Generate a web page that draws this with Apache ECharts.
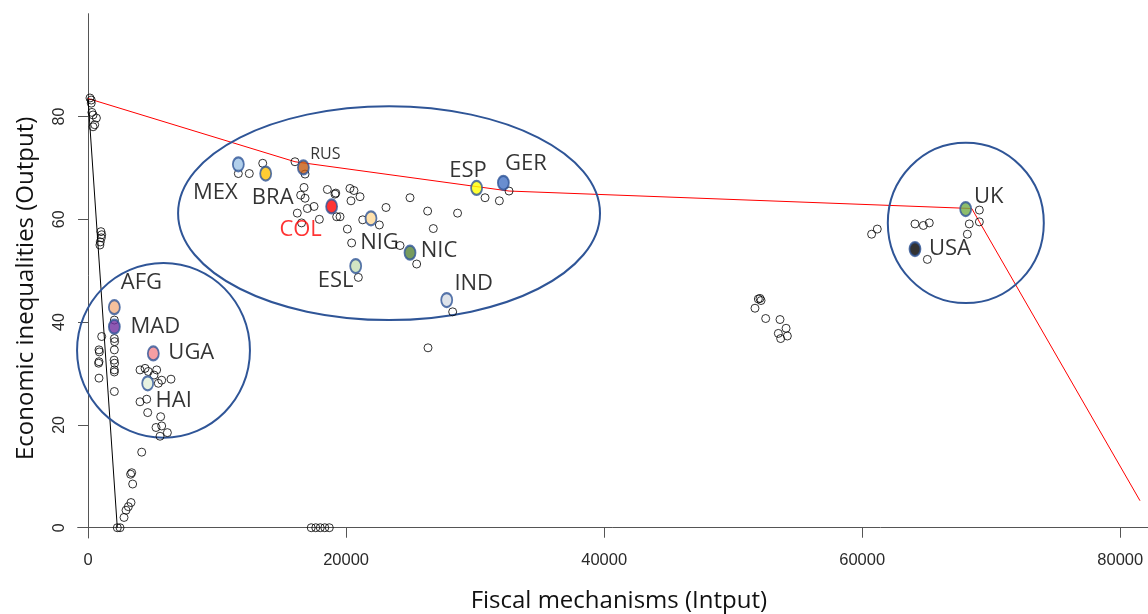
<!DOCTYPE html>
<html>
<head>
<meta charset="utf-8">
<script src="https://cdn.jsdelivr.net/npm/echarts@6/dist/echarts.min.js"></script>
<style>
html,body{margin:0;padding:0;background:#fff;}
#chart{width:1148px;height:614px;}
</style>
</head>
<body>
<div id="chart"></div>
<script>
// ---------- data ----------
const xTicks = [0, 20000, 40000, 60000, 80000];
const yTicks = [0, 20, 40, 60, 80];

// hollow (unlabelled) observations
const axisTopPoints = [[150,83.6],[250,83.2],[250,82.6],[300,80.8],[390,80.3],[650,79.7],[520,78.4],[390,78.0]];
const axisMidPoints = [[1000,57.6],[1060,57.0],[1030,56.4],[950,55.6],[920,55.0]];
const leftColumnA = [[1060,37.2],[850,34.6],[880,34.2],[850,32.3],[820,32.0],[850,29.1]];
const leftColumnB = [[2040,40.4],[2040,36.8],[2060,36.2],[2040,34.6],[2020,32.6],[2060,32.0],[2040,30.7],[2040,30.3],[2040,26.5]];
const leftCluster = [[4030,30.7],[4420,31.0],[4675,30.4],[5115,29.7],[5320,30.7],[5710,28.7],[5450,28.1],[6430,28.9],[4550,25.0],[4030,24.5],[4625,22.4],[5630,21.6],[5710,19.8],[5270,19.5],[6150,18.5],[5580,17.8],[4160,14.7]];
const leftTail = [[3385,10.7],[3300,10.4],[3460,8.5],[3330,4.9],[3125,4.1],[2945,3.4],[2790,2.0],[2270,0],[2480,0]];
const midCluster = [[11650,68.9],[12500,68.9],[13540,70.9],[16040,71.2],[16820,68.8],[16740,66.2],[16480,64.7],[16820,64.1],[17000,62.1],[17515,62.5],[16220,61.2],[16550,59.3],[17930,60.0],[18550,65.8],[19140,64.9],[19200,65.1],[20300,66.0],[20610,65.6],[20380,63.6],[21080,64.4],[19270,60.5],[19530,60.5],[20100,58.1],[20430,55.4],[21290,59.9],[22580,58.9],[23095,62.3],[24180,54.9],[25470,51.3],[24955,64.2],[26320,61.6],[26760,58.2],[28640,61.2],[30770,64.2],[31880,63.6],[32630,65.5],[20950,48.7],[28260,42.0],[26350,35.0]];
const midAxisPoints = [[17300,0],[17650,0],[18000,0],[18350,0],[18700,0]];
const eastCluster = [[52080,44.6],[51950,44.5],[52160,44.2],[51690,42.7],[52520,40.7],[53630,40.5],[54100,38.8],[53500,37.8],[54200,37.3],[53680,36.8]];
const rightCluster = [[69080,61.8],[69080,59.5],[68300,59.1],[68150,57.1],[64090,59.1],[64740,58.8],[65200,59.3],[60730,57.1],[61170,58.1],[65050,52.2]];

// labelled countries
const countryNames = ['AFG','MAD','UGA','HAI','MEX','BRA','RUS','COL','NIG','NIC','ESL','IND','ESP','GER','UK','USA'];
const countryX = [2040,2040,5060,4625,11650,13770,16690,18880,21930,24955,20745,27800,30115,32190,68020,64090];
const countryY = [42.9,39.1,33.9,28.1,70.7,68.9,70.1,62.5,60.2,53.5,50.9,44.3,66.1,67.1,62.0,54.2];

// frontiers
const frontierRedX = [0,16040,32630,68490,81530];
const frontierRedY = [83.5,71.2,65.5,62.1,5.25];
const frontierBlackX = [0,2270];
const frontierBlackY = [83.5,0];

// cluster ellipses: centre x, centre y, radius x, radius y (data units)
const ellipseCX = [5850,23330,68030];
const ellipseCY = [34.5,61.2,59.3];
const ellipseRX = [6700,16350,6045];
const ellipseRY = [17.0,20.8,15.6];

// ---------- styles (not data) ----------
const countryStyle = {
  AFG:{fill:'#f4b183', off:[27,-24]},
  MAD:{fill:'#7030a0', off:[41,0]},
  UGA:{fill:'#f4868c', off:[38,-1]},
  HAI:{fill:'#e2f0d9', off:[26,17]},
  MEX:{fill:'#9dc3e6', off:[-23,28]},
  BRA:{fill:'#ffc000', off:[7,24]},
  RUS:{fill:'#c55a11', off:[22,-13], size:16},
  COL:{fill:'#ff0000', off:[-31,23], color:'#ff0000'},
  NIG:{fill:'#ffd996', off:[8.5,24]},
  NIC:{fill:'#548235', off:[29,-2]},
  ESL:{fill:'#c5e0b4', off:[-20,15]},
  IND:{fill:'#d6dce5', off:[27,-16]},
  ESP:{fill:'#ffff00', off:[-8.5,-17]},
  GER:{fill:'#4472c4', off:[22.5,-19]},
  UK:{fill:'#70ad47', off:[23,-12]},
  USA:{fill:'#000000', off:[35,0]}
};

const hollow = [].concat(axisTopPoints, axisMidPoints, leftColumnA, leftColumnB, leftCluster, leftTail, midCluster, midAxisPoints, eastCluster, rightCluster);

const countryData = countryNames.map((n, i) => {
  const st = countryStyle[n];
  return {
    name: n,
    value: [countryX[i], countryY[i]],
    itemStyle: {color: st.fill},
    label: {offset: st.off, fontSize: st.size || 22, color: st.color || '#000'}
  };
});

const ellipseData = ellipseCX.map((c, i) => [c, ellipseCY[i], ellipseRX[i], ellipseRY[i]]);

const chart = echarts.init(document.getElementById('chart'), null, {renderer: 'canvas'});
const axisColor = '#555';
chart.setOption({
  animation: false,
  backgroundColor: '#fff',
  grid: {left: 77.7, right: 0, top: 13.7, bottom: 76, containLabel: false, outerBoundsMode: 'none'},
  xAxis: {
    type: 'value', min: -800, max: 82150,
    splitLine: {show: false},
    axisLine: {onZero: true, lineStyle: {color: axisColor, width: 1}},
    axisTick: {customValues: xTicks, length: 10, lineStyle: {color: axisColor}},
    axisLabel: {customValues: xTicks, formatter: v => String(v), fontSize: 16.5, color: '#2a2a2a', margin: 14, fontFamily: 'Liberation Sans'},
    name: 'Fiscal mechanisms (Intput)', nameLocation: 'middle', nameGap: 51,
    nameTextStyle: {fontSize: 24, color: '#111', fontFamily: 'Open Sans', padding: [0, 0, 0, 12]}
  },
  yAxis: {
    type: 'value', min: -2, max: 100,
    splitLine: {show: false},
    axisLine: {onZero: true, lineStyle: {color: axisColor, width: 1}},
    axisTick: {customValues: yTicks, length: 10, lineStyle: {color: axisColor}},
    axisLabel: {customValues: yTicks, fontSize: 16, color: '#2a2a2a', margin: 10, rotate: 90, fontFamily: 'Liberation Sans'},
    name: 'Economic inequalities (Output)', nameLocation: 'middle', nameGap: 40,
    nameTextStyle: {fontSize: 24, color: '#111', fontFamily: 'Open Sans', padding: [0, 25, 0, 0]}
  },
  series: [
    {
      type: 'custom', name: 'clusters', silent: true, clip: false, z: 3,
      encode: {x: 0, y: 1},
      data: ellipseData,
      renderItem: function (params, api) {
        const c = api.coord([api.value(0), api.value(1)]);
        const s = api.size([api.value(2), api.value(3)]);
        return {type: 'ellipse', shape: {cx: c[0], cy: c[1], rx: s[0], ry: s[1]},
                style: {fill: 'none', stroke: '#2f5597', lineWidth: 2}};
      }
    },
    {
      type: 'line', name: 'frontierBlack', silent: true, showSymbol: false, z: 2,
      data: frontierBlackX.map((x, i) => [x, frontierBlackY[i]]),
      lineStyle: {color: '#000', width: 1}
    },
    {
      type: 'line', name: 'frontierRed', silent: true, showSymbol: false, z: 2,
      data: frontierRedX.map((x, i) => [x, frontierRedY[i]]),
      lineStyle: {color: '#ff0000', width: 1}
    },
    {
      type: 'scatter', name: 'obs', silent: true, z: 4,
      symbol: 'circle', symbolSize: 8,
      itemStyle: {color: 'rgba(255,255,255,0)', borderColor: '#000', borderWidth: 1},
      data: hollow
    },
    {
      type: 'scatter', name: 'countries', silent: true, z: 5,
      symbol: 'circle', symbolSize: [11, 14],
      itemStyle: {borderColor: '#2f5597', borderWidth: 2},
      label: {show: true, position: 'inside', formatter: '{b}', fontFamily: 'Open Sans', fontSize: 22, color: '#000'},
      data: countryData
    }
  ]
});
</script>
</body>
</html>
